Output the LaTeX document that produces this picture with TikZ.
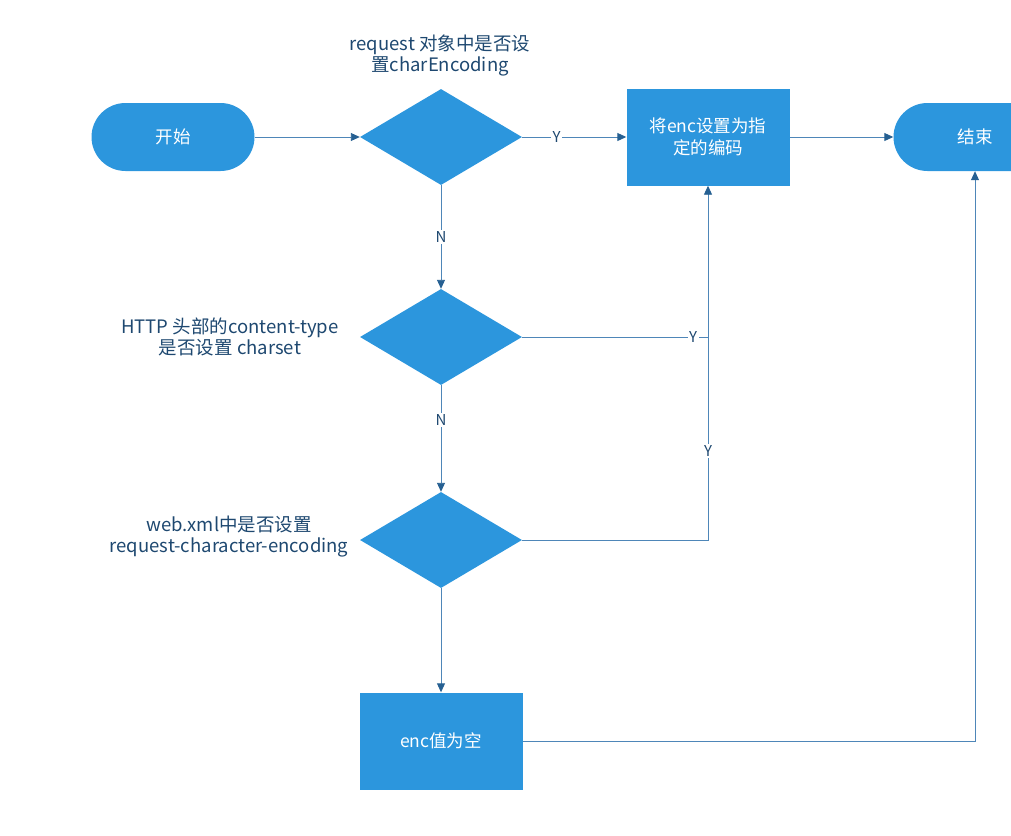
\documentclass[tikz,border=0pt]{standalone}
\usepackage{fontspec}
\setmainfont{Noto Sans CJK SC}
\usepackage{xcolor}
\usepackage{tikz}
\definecolor{flowblue}{RGB}{44,150,221}
\definecolor{linkblue}{RGB}{78,134,184}
\definecolor{tipblue}{RGB}{38,96,146}
\definecolor{labelnavy}{RGB}{30,72,112}
\usetikzlibrary{shapes.geometric,arrows.meta,positioning,calc}

\begin{document}
\begin{tikzpicture}[
    x=1pt, y=-1pt,
    terminal/.style={rectangle, rounded corners=34pt, minimum width=163pt, minimum height=68pt, fill=flowblue, text=white, font=\fontsize{17.5}{20}\selectfont},
    process/.style={rectangle, minimum width=163pt, minimum height=97pt, fill=flowblue, text=white, align=center, font=\fontsize{17.5}{22}\selectfont},
    decision/.style={diamond, minimum width=162pt, minimum height=96pt, inner sep=0pt, fill=flowblue},
    question/.style={text=labelnavy, align=center, font=\fontsize{18.5}{21}\selectfont},
    yn/.style={fill=white, text=labelnavy, inner sep=1.5pt, font=\fontsize{15}{17}\selectfont},
    arrow/.style={-{Triangle[length=9pt,width=8pt,color=tipblue]}, draw=linkblue, line width=0.9pt},
    link/.style={draw=linkblue, line width=0.9pt}
]
\useasboundingbox (0,0) rectangle (1011,835);
\clip (0,0) rectangle (1011,835);

% Terminals
\node[terminal] (start) at (173,137) {开始};
\node[terminal] (finish) at (975,137) {结束};

% Decisions
\node[decision] (askreq) at (441,137) {};
\node[decision] (askhttp) at (441,337) {};
\node[decision] (askweb) at (441,540) {};

% Questions
\node[question] (qreq) at (440,56) {request 对象中是否设\\置charEncoding};
\node[question] (qhttp) at (230,337) {HTTP 头部的content-type\\是否设置 charset};
\node[question] (qweb) at (229,537) {web.xml中是否设置\\request-character-encoding};

% Processes
\node[process] (setenc) at (708,137) {将enc设置为指\\定的编码};
\node[process] (noenc) at (441,741) {enc值为空};

% Arrows
\draw[arrow] (start) -- (askreq);
\draw[arrow] (askreq) -- node[yn, pos=0.33] {Y} (setenc);
\draw[arrow] (setenc) -- (finish);
\draw[arrow] (askreq) -- node[yn] {N} (askhttp);
\draw[arrow] (askhttp) -- node[yn, pos=0.33] {N} (askweb);
\draw[arrow] (askweb) -- (noenc);
\draw[link] (askhttp.east) -- node[yn, pos=0.92] {Y} (askhttp.east -| setenc.south);
\draw[arrow] (askweb.east) -- (askweb.east -| setenc.south) -- node[yn, pos=0.25] {Y} (setenc.south);
\draw[arrow] (noenc.east) -- (noenc.east -| finish.south) -- (finish.south);

\end{tikzpicture}
\end{document}
